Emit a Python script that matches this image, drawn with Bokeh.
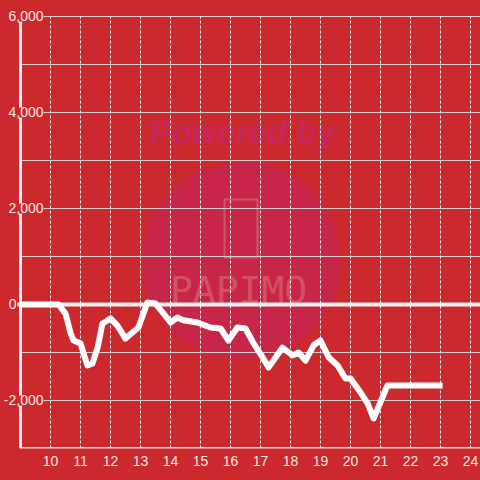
from bokeh.plotting import figure
from bokeh.models import Range1d, FixedTicker, Label, LabelSet, ColumnDataSource
from bokeh.core.properties import value
from bokeh.embed import file_html
from bokeh.resources import INLINE

# ---- data ----
hours = [9.0, 10.27, 10.5, 10.67, 10.77, 11.0, 11.23, 11.4, 11.57, 11.73, 12.0, 12.23,
         12.5, 12.93, 13.23, 13.5, 13.77, 14.0, 14.23, 14.43, 14.9, 15.33, 15.67, 15.93,
         16.23, 16.5, 16.77, 17.07, 17.27, 17.73, 18.07, 18.27, 18.5, 18.77, 19.0, 19.27,
         19.57, 19.83, 20.0, 20.33, 20.57, 20.77, 21.23, 23.07]
balance = [0, 0, -190, -600, -750, -810, -1270, -1230, -900, -400, -290, -440,
           -710, -480, 40, 20, -190, -375, -270, -330, -375, -480, -500, -750,
           -480, -500, -810, -1100, -1310, -900, -1060, -1000, -1170, -850, -750, -1100,
           -1270, -1540, -1540, -1830, -2060, -2375, -1690, -1690]
x_ticks = list(range(10, 25))
y_grid = [-2000, -1000, 1000, 2000, 3000, 4000, 5000, 6000]
y_label_values = [-2000, 2000, 4000, 6000]
y_label_texts = ["-2,000", "2,000", "4,000", "6,000"]
zero_label = "0"

# ---- style ----
BG = "#CC292E"
TXT = "#F8E4E4"
FONT = "Liberation Sans"
X0, X1 = 8.333, 24.333
Y_MIN, Y_MAX = -3000, 6000
Y0, Y1 = Y_MIN, 6333.33
AXIS_X = 9.0

p = figure(width=480, height=480, output_backend="svg", toolbar_location=None,
           x_range=Range1d(X0, X1), y_range=Range1d(Y0, Y1),
           y_axis_location=None,
           min_border_left=0, min_border_top=0, min_border_right=0, min_border_bottom=32)
p.background_fill_color = BG
p.border_fill_color = BG
p.outline_line_color = None

# x axis
p.xaxis.ticker = FixedTicker(ticks=x_ticks)
p.xaxis.major_tick_out = 0
p.xaxis.major_tick_in = 0
p.xaxis.minor_tick_out = 0
p.xaxis.minor_tick_in = 0
p.xaxis.major_label_standoff = 7
p.xaxis.axis_line_color = None
p.xaxis.major_label_text_color = TXT
p.xaxis.major_label_text_font = FONT
p.xaxis.major_label_text_font_size = "14px"

p.xgrid.visible = False
p.ygrid.visible = False

# watermark
p.scatter([16.37], [917], size=198, marker="circle", fill_color="#C82648",
          line_color=None, level="underlay")
p.text([16.4], [3583], text=["Powered by"], text_align="center", text_baseline="middle",
       text_font=value(FONT), text_font_style="bold italic", text_font_size="33px",
       text_color="#C6265A", level="underlay")
p.rect([16.35], [1583], width=33, height=58, width_units="screen", height_units="screen",
       fill_color=None, line_color="#D8606C", line_width=2, line_alpha=0.8, level="underlay")
p.text([16.27], [312], text=["PAPIMO"], text_align="center", text_baseline="middle",
       text_font=value("DejaVu Sans Mono"), text_font_size="38px",
       text_color="#D8606C", text_alpha=0.75, level="underlay")

# vertical dashed grid lines
p.segment(x0=x_ticks, x1=x_ticks, y0=[Y_MIN] * len(x_ticks), y1=[Y_MAX] * len(x_ticks),
          line_color="#EDEDED", line_width=1, line_dash="3 2")
# horizontal grid lines (start at the y axis)
p.segment(x0=[AXIS_X] * len(y_grid), x1=[X1] * len(y_grid), y0=y_grid, y1=y_grid,
          line_color="#D2D2D2", line_width=1)
# bottom axis line
p.segment(x0=[AXIS_X], x1=[X1], y0=[Y_MIN], y1=[Y_MIN], line_color="#E0E0E0", line_width=3)
# zero line
p.segment(x0=[8.9], x1=[X1], y0=[0], y1=[0], line_color="#F2F2F2", line_width=4)
# y axis line
p.segment(x0=[AXIS_X], x1=[AXIS_X], y0=[Y_MIN], y1=[Y_MAX], line_color="#F2F2F2", line_width=3)

# data line
p.line(hours, balance, line_color="white", line_width=6, line_join="round")

# y labels
src = ColumnDataSource(dict(x=[AXIS_X] * len(y_label_values), y=y_label_values, t=y_label_texts))
p.add_layout(LabelSet(x="x", y="y", text="t", source=src, x_offset=23,
                      text_align="right", text_baseline="middle",
                      text_color=TXT, text_font=value(FONT), text_font_size="14px",
                      background_fill_color=BG, level="overlay"))
p.add_layout(Label(x=AXIS_X, y=0, text=zero_label, x_offset=-4, text_align="right",
                   text_baseline="middle", text_color=TXT, text_font=FONT,
                   text_font_size="14px", background_fill_color=BG, level="overlay"))

template = """{% block preamble %}<style>html, body { background: #CC292E; }</style>{% endblock %}"""
open("out.html", "w").write(file_html(p, INLINE, template=template))
